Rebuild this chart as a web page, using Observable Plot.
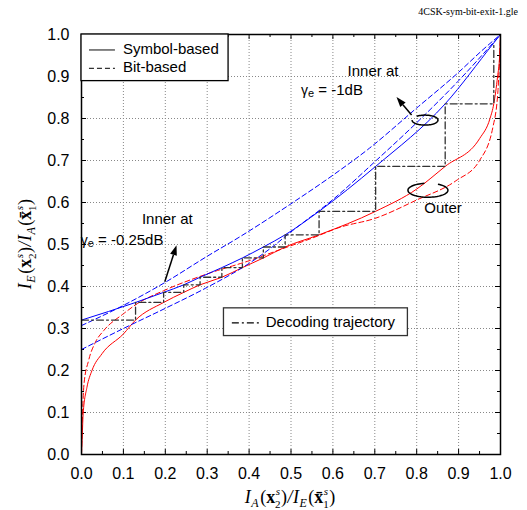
<!DOCTYPE html>
<html><head><meta charset="utf-8">
<script src="https://cdn.jsdelivr.net/npm/d3@7"></script>
<script src="https://cdn.jsdelivr.net/npm/@observablehq/plot@0.6"></script>
<style>body{margin:0;background:#fff}</style>
</head><body><div id="chart"></div>
<script>
// ---- data ----
const majorTicks = [0, 0.1, 0.2, 0.3, 0.4, 0.5, 0.6, 0.7, 0.8, 0.9, 1.0];
const minorTicks = [0.05, 0.15, 0.25, 0.35, 0.45, 0.55, 0.65, 0.75, 0.85, 0.95];

// Inner, symbol-based, -1dB (solid blue)
const symInnerX = [0, 0.129, 0.196, 0.244, 0.283, 0.335, 0.384, 0.434, 0.486, 0.567, 0.702, 0.868, 0.984, 1.0];
const symInnerY = [0.32, 0.362, 0.386, 0.404, 0.422, 0.445, 0.468, 0.494, 0.523, 0.579, 0.686, 0.835, 0.98, 1.0];
// Inner, bit-based, -0.25dB (dashed blue, upper)
const bitInnerAX = [0, 0.1, 0.2, 0.3, 0.379, 0.5, 0.6, 0.683, 0.8, 0.9, 0.956, 1.0];
const bitInnerAY = [0.307, 0.355, 0.41, 0.472, 0.519, 0.597, 0.665, 0.726, 0.825, 0.91, 0.962, 1.0];
// Inner, bit-based, -1dB (dashed blue, lower)
const bitInnerBX = [0, 0.1, 0.2, 0.3, 0.4, 0.45, 0.5, 0.6, 0.7, 0.8, 0.9, 1.0];
const bitInnerBY = [0.25, 0.30, 0.348, 0.398, 0.455, 0.49, 0.53, 0.607, 0.697, 0.79, 0.89, 1.0];
// Outer, symbol-based (solid red)
const symOuterX = [0, 0.002, 0.004, 0.013, 0.025, 0.049, 0.1, 0.129, 0.196, 0.244, 0.283, 0.335, 0.384, 0.434, 0.486, 0.567, 0.702, 0.8, 0.868, 0.95, 0.975, 0.984, 0.993, 0.998, 1.0];
const symOuterY = [0, 0.05, 0.098, 0.16, 0.2, 0.24, 0.287, 0.32, 0.362, 0.386, 0.404, 0.422, 0.445, 0.468, 0.494, 0.523, 0.579, 0.632, 0.686, 0.752, 0.80, 0.835, 0.9, 0.95, 1.0];
// Outer, bit-based (dashed red)
const bitOuterX = [0, 0.002, 0.006, 0.017, 0.033, 0.053, 0.1, 0.133, 0.196, 0.3, 0.402, 0.48, 0.55, 0.617, 0.7, 0.8, 0.894, 0.95, 0.982, 0.994, 1.0];
const bitOuterY = [0, 0.08, 0.168, 0.224, 0.267, 0.295, 0.335, 0.359, 0.39, 0.43, 0.462, 0.49, 0.515, 0.541, 0.562, 0.606, 0.652, 0.70, 0.78, 0.867, 1.0];
// Decoding trajectory (staircase vertices)
const trajX = [0, 0.129, 0.129, 0.196, 0.196, 0.244, 0.244, 0.283, 0.283, 0.335, 0.335, 0.384, 0.384, 0.434, 0.434, 0.486, 0.486, 0.567, 0.567, 0.702, 0.702, 0.868, 0.868, 0.984, 0.984];
const trajY = [0.32, 0.32, 0.362, 0.362, 0.386, 0.386, 0.404, 0.404, 0.422, 0.422, 0.445, 0.445, 0.468, 0.468, 0.494, 0.494, 0.523, 0.523, 0.579, 0.579, 0.686, 0.686, 0.835, 0.835, 0.98];

const legendLabels = ["Symbol-based", "Bit-based"];
const trajLabel = "Decoding trajectory";
const fileLabel = "4CSK-sym-bit-exit-1.gle";

// ---- layout ----
const W = 527, H = 510, mL = 81, mR = 27, mT = 34, mB = 56;
const frameH = H - mT - mB, frameW = W - mL - mR;
const pts = (xs, ys) => xs.map((x, i) => ({x, y: ys[i]}));
const BLUE = "#0000ff", RED = "#ff0000";

const plot = Plot.plot({
  width: W, height: H,
  marginLeft: mL, marginRight: mR, marginTop: mT, marginBottom: mB,
  style: {fontFamily: "'Liberation Sans', Arial, sans-serif", fontSize: "16px", background: "white", color: "black"},
  x: {domain: [0, 1], ticks: majorTicks, tickFormat: d3.format(".1f"), tickSize: 0, tickPadding: 13, label: null},
  y: {domain: [0, 1], ticks: majorTicks, tickFormat: d3.format(".1f"), tickSize: 0, tickPadding: 12, label: null},
  marks: [
    Plot.ruleX(majorTicks, {stroke: "#888", strokeWidth: 1, strokeDasharray: "1,2"}),
    Plot.ruleY(majorTicks, {stroke: "#888", strokeWidth: 1, strokeDasharray: "1,2"}),
    // inward ticks
    Plot.ruleX(majorTicks, {insetTop: frameH - 5, stroke: "black"}),
    Plot.ruleX(minorTicks, {insetTop: frameH - 3, stroke: "black"}),
    Plot.ruleX(majorTicks, {insetBottom: frameH - 5, stroke: "black"}),
    Plot.ruleX(minorTicks, {insetBottom: frameH - 3, stroke: "black"}),
    Plot.ruleY(majorTicks, {insetRight: frameW - 5, stroke: "black"}),
    Plot.ruleY(minorTicks, {insetRight: frameW - 3, stroke: "black"}),
    Plot.ruleY(majorTicks, {insetLeft: frameW - 5, stroke: "black"}),
    Plot.ruleY(minorTicks, {insetLeft: frameW - 3, stroke: "black"}),
    // curves
    Plot.line(pts(bitOuterX, bitOuterY), {x: "x", y: "y", stroke: RED, strokeWidth: 1, strokeDasharray: "5,3", curve: "monotone-x"}),
    Plot.line(pts(symOuterX, symOuterY), {x: "x", y: "y", stroke: RED, strokeWidth: 1, curve: "monotone-x"}),
    Plot.line(pts(bitInnerAX, bitInnerAY), {x: "x", y: "y", stroke: BLUE, strokeWidth: 1, strokeDasharray: "5,3", curve: "monotone-x"}),
    Plot.line(pts(bitInnerBX, bitInnerBY), {x: "x", y: "y", stroke: BLUE, strokeWidth: 1, strokeDasharray: "5,3", curve: "monotone-x"}),
    Plot.line(pts(symInnerX, symInnerY), {x: "x", y: "y", stroke: BLUE, strokeWidth: 1, curve: "monotone-x"}),
    Plot.line(pts(trajX, trajY), {x: "x", y: "y", stroke: "#333", strokeWidth: 1.3, strokeDasharray: "7,3,2,3", curve: "linear"}),
    Plot.frame({stroke: "black", strokeWidth: 1.5})
  ]
});
document.getElementById("chart").appendChild(plot);

const svg = d3.select(plot);
const sx = plot.scale("x"), sy = plot.scale("y");
const X = v => sx.apply(v), Y = v => sy.apply(v);
const g = svg.append("g");

// arrows with filled heads
function arrow(x1, y1, x2, y2) {
  const ax = X(x1), ay = Y(y1), bx = X(x2), by = Y(y2);
  const ang = Math.atan2(by - ay, bx - ax), L = 10, Wd = 3.5;
  const cx = bx - L * Math.cos(ang), cy = by - L * Math.sin(ang);
  g.append("line").attr("x1", ax).attr("y1", ay).attr("x2", cx).attr("y2", cy)
    .attr("stroke", "black").attr("stroke-width", 1.5);
  const px = -Math.sin(ang), py = Math.cos(ang);
  g.append("path").attr("d", `M${bx},${by}L${cx + Wd * px},${cy + Wd * py}L${cx - Wd * px},${cy - Wd * py}Z`)
    .attr("fill", "black");
}
arrow(0.789, 0.807, 0.753, 0.85);
arrow(0.2, 0.41, 0.228, 0.497);

// ellipses
function ellipse(cx, cy, rx, ry, a0, a1) {
  const p = d3.path();
  const n = 60;
  for (let i = 0; i <= n; i++) {
    const a = (a0 + (a1 - a0) * i / n) * Math.PI / 180;
    const px = X(cx) + rx * Math.cos(a), py = Y(cy) + ry * Math.sin(a);
    i ? p.lineTo(px, py) : p.moveTo(px, py);
  }
  g.append("path").attr("d", p.toString()).attr("fill", "none").attr("stroke", "black").attr("stroke-width", 1.5);
}
ellipse(0.821, 0.795, 13, 5, 180, -130);
ellipse(0.828, 0.628, 20, 7, -100, -420);

// annotation text
const sans = "'Liberation Sans', Arial, sans-serif";
function txt(x, y, str, anchor) {
  return g.append("text").attr("x", X(x)).attr("y", Y(y)).attr("text-anchor", anchor || "start")
    .attr("dominant-baseline", "middle").attr("font-family", sans).attr("font-size", 15).text(str);
}
function gammaTxt(x, y, rest) {
  const t = g.append("text").attr("x", X(x)).attr("y", Y(y)).attr("dominant-baseline", "middle")
    .attr("font-family", sans).attr("font-size", 15);
  t.append("tspan").attr("font-size", 14).text("γ");
  t.append("tspan").attr("font-size", 11).attr("dy", 3).text("e");
  t.append("tspan").attr("dy", -3).text(rest);
}
txt(0.697, 0.909, "Inner at", "middle");
gammaTxt(0.599, 0.864, " = -1dB");
txt(0.206, 0.557, "Inner at", "middle");
gammaTxt(0.098, 0.507, " = -0.25dB");
txt(0.864, 0.583, "Outer", "middle");

// file label
g.append("text").attr("x", 518).attr("y", 15).attr("text-anchor", "end")
  .attr("font-family", "'Liberation Serif', 'Times New Roman', serif").attr("font-size", 10).text(fileLabel);

// legends
const L1 = {x0: X(0), x1: X(0.351), y0: Y(1), y1: Y(0.889)};
g.append("rect").attr("x", L1.x0).attr("y", L1.y0).attr("width", L1.x1 - L1.x0).attr("height", L1.y1 - L1.y0)
  .attr("fill", "white").attr("stroke", "black").attr("stroke-width", 1.3);
[[0.962, null], [0.918, "5,3"]].forEach(([yy, dash], i) => {
  g.append("line").attr("x1", X(0.019)).attr("x2", X(0.081)).attr("y1", Y(yy)).attr("y2", Y(yy))
    .attr("stroke", "#333").attr("stroke-width", 1.2).attr("stroke-dasharray", dash);
  txt(0.1, yy, legendLabels[i]);
});
const L2 = {x0: X(0.34), x1: X(0.779), y0: Y(0.348), y1: Y(0.282)};
g.append("rect").attr("x", L2.x0).attr("y", L2.y0).attr("width", L2.x1 - L2.x0).attr("height", L2.y1 - L2.y0)
  .attr("fill", "white").attr("stroke", "#333").attr("stroke-width", 1.3);
g.append("line").attr("x1", X(0.36)).attr("x2", X(0.427)).attr("y1", Y(0.312)).attr("y2", Y(0.312))
  .attr("stroke", "black").attr("stroke-width", 1.2).attr("stroke-dasharray", "7,3,2,3");
txt(0.441, 0.312, trajLabel);

// axis labels with math
const serif = "'Liberation Serif', 'Times New Roman', serif";
function mathLabel(x, y, parts, rotate) {
  const t = g.append("text").attr("x", x).attr("y", y).attr("text-anchor", "middle")
    .attr("font-family", serif).attr("font-size", 18);
  if (rotate) t.attr("transform", `rotate(-90 ${x} ${y})`);
  parts.forEach(([s, o]) => {
    const ts = t.append("tspan").text(s);
    if (o.it) ts.attr("font-style", "italic");
    if (o.b) ts.attr("font-weight", "bold");
    if (o.size) ts.attr("font-size", o.size);
    if (o.dx) ts.attr("dx", o.dx);
    if (o.dy) ts.attr("dy", o.dy);
  });
}
const lab = (a, b) => [
  ["I", {it: 1}], [a, {it: 1, size: 12, dy: 4, dx: 0.5}], ["(", {dy: -4, dx: 1.5}], ["x", {b: 1}],
  ["s", {it: 1, size: 11, dy: -8, dx: 0.5}], ["2", {size: 11, dx: -5, dy: 13}], [")", {dy: -5, dx: 0.5}],
  ["/", {it: 1, dx: 0.5}], ["I", {it: 1, dx: 0.5}], [b, {it: 1, size: 12, dy: 4, dx: 0.5}], ["(", {dy: -4, dx: 1.5}], ["x\u0304", {b: 1}],
  ["s", {it: 1, size: 11, dy: -8, dx: 0.5}], ["1", {size: 11, dx: -5, dy: 13}], [")", {dy: -5, dx: 0.5}]
];
mathLabel(290, 503, lab("A", "E"), false);
mathLabel(31, 244, lab("E", "A"), true);
</script>
</body></html>
